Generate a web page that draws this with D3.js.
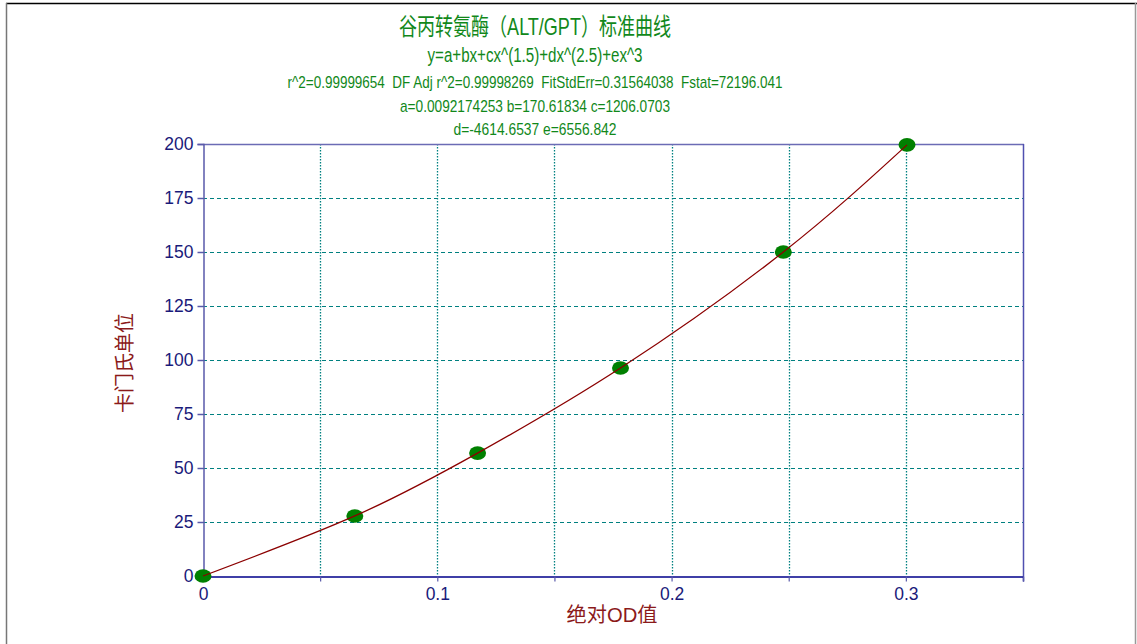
<!DOCTYPE html>
<html>
<head>
<meta charset="utf-8">
<script src="https://cdn.jsdelivr.net/npm/d3@7"></script>
<style>
  body { margin: 0; background: #fff; }
  svg { display: block; font-family: Arial, "Liberation Sans", "Noto Sans CJK SC", sans-serif; }
  text { white-space: pre; }
</style>
</head>
<body>
<div id="chart"></div>
<script>
var width = 1137, height = 644;
var margin = {top: 144, right: 114, bottom: 68, left: 203};

// measured points (OD, units)
var odValues = [0, 0.0648, 0.1172, 0.1782, 0.2477, 0.3005];
var unitValues = [0, 27.8, 56.9, 96.3, 150, 199.6];

var xTicks = [0, 0.1, 0.2, 0.3];
var xGrid = [0.05, 0.1, 0.15, 0.2, 0.25, 0.3];
var yTicks = [0, 25, 50, 75, 100, 125, 150, 175, 200];

var titleLines = [
    "谷丙转氨酶（ALT/GPT）标准曲线",
    "y=a+bx+cx^(1.5)+dx^(2.5)+ex^3",
    "r^2=0.99999654  DF Adj r^2=0.99998269  FitStdErr=0.31564038  Fstat=72196.041",
    "a=0.0092174253 b=170.61834 c=1206.0703",
    "d=-4614.6537 e=6556.842"
];
var xLabel = "绝对OD值";
var yLabel = "卡门氏单位";

var data = odValues.map(function(d, i) { return {x: d, y: unitValues[i]}; });

var svg = d3.select("#chart").append("svg")
    .attr("width", width)
    .attr("height", height);

// outer frame
svg.append("line").attr("x1", 6).attr("x2", 1137).attr("y1", 3.5).attr("y2", 3.5)
    .attr("stroke", "#000").attr("stroke-width", 1.5);
svg.append("line").attr("x1", 6.5).attr("x2", 6.5).attr("y1", 3).attr("y2", 644)
    .attr("stroke", "#777").attr("stroke-width", 1.5);
svg.append("line").attr("x1", 1135.5).attr("x2", 1135.5).attr("y1", 3).attr("y2", 644)
    .attr("stroke", "#999").attr("stroke-width", 1.5);

var x = d3.scaleLinear().domain([0, 0.35]).range([margin.left, width - margin.right]);
var y = d3.scaleLinear().domain([0, 200]).range([height - margin.bottom, margin.top]);

// grid
svg.append("g").selectAll("line")
    .data(xGrid).enter().append("line")
    .attr("x1", function(d) { return Math.round(x(d)) + 0.5; })
    .attr("x2", function(d) { return Math.round(x(d)) + 0.5; })
    .attr("y1", y(200)).attr("y2", y(0))
    .attr("stroke", "#008080").attr("stroke-width", 1.3)
    .attr("stroke-dasharray", "1.5,1.5");

svg.append("g").selectAll("line")
    .data(yTicks.slice(1, -1)).enter().append("line")
    .attr("x1", x(0)).attr("x2", x(0.35))
    .attr("y1", function(d) { return Math.round(y(d)) + 0.5; })
    .attr("y2", function(d) { return Math.round(y(d)) + 0.5; })
    .attr("stroke", "#008080").attr("stroke-width", 1)
    .attr("stroke-dasharray", "4,3");

// frame of plot
svg.append("line").attr("x1", x(0)).attr("x2", x(0.35) + 1).attr("y1", y(200) + 0.5).attr("y2", y(200) + 0.5)
    .attr("stroke", "#6b6bb5").attr("stroke-width", 1.5);
svg.append("line").attr("x1", x(0.35) + 0.5).attr("x2", x(0.35) + 0.5).attr("y1", y(200)).attr("y2", y(0))
    .attr("stroke", "#5050b0").attr("stroke-width", 1.5);

// axes
var yAxis = svg.append("g")
    .attr("transform", "translate(" + (x(0) + 0.5) + ",0)")
    .call(d3.axisLeft(y).tickValues(yTicks).tickSize(6).tickPadding(4).tickFormat(d3.format("d")));
var xAxis = svg.append("g")
    .attr("transform", "translate(0," + (y(0) + 0.5) + ")")
    .call(d3.axisBottom(x).tickValues(d3.range(0, 0.351, 0.05)).tickSize(5).tickPadding(4)
        .tickFormat(function(d) { return xTicks.some(function(t) { return Math.abs(t - d) < 1e-9; }) ? d3.format("")(+d.toFixed(2)) : ""; }));

yAxis.select(".domain").attr("stroke", "#5a5aaa").attr("stroke-width", 1.5);
xAxis.select(".domain").attr("stroke", "#00008b").attr("stroke-width", 1.5);
yAxis.selectAll(".tick line").attr("stroke", "#5a5aaa").attr("stroke-width", 1.5);
xAxis.selectAll(".tick line").attr("stroke", "#5a5aaa").attr("stroke-width", 1.2);
svg.selectAll(".tick text")
    .attr("fill", "#1a1a7a")
    .style("font-size", "17.5px")
    .style("font-family", "Arial, 'Liberation Sans', sans-serif");
yAxis.selectAll(".tick text").attr("dy", "0.3em");
xAxis.selectAll(".tick text").attr("dy", "0.8em");

// axis labels
svg.append("text")
    .attr("x", 612).attr("y", 622)
    .attr("text-anchor", "middle")
    .attr("fill", "#8b1a1a")
    .style("font-size", "20px")
    .attr("textLength", 91).attr("lengthAdjust", "spacingAndGlyphs")
    .text(xLabel);
svg.append("text")
    .attr("transform", "translate(132,363) rotate(-90)")
    .attr("text-anchor", "middle")
    .attr("fill", "#8b1a1a")
    .style("font-size", "20px")
    .attr("textLength", 100).attr("lengthAdjust", "spacingAndGlyphs")
    .text(yLabel);

// curve
var line = d3.line()
    .x(function(d) { return x(d.x); })
    .y(function(d) { return y(d.y); })
    .curve(d3.curveNatural);

// points
svg.append("g").selectAll("ellipse")
    .data(data).enter().append("ellipse")
    .attr("cx", function(d) { return x(d.x); })
    .attr("cy", function(d) { return y(d.y); })
    .attr("rx", 8.5).attr("ry", 6.8)
    .attr("fill", "#008000");

svg.append("path")
    .datum(data)
    .attr("d", line)
    .attr("fill", "none")
    .attr("stroke", "#8b0000")
    .attr("stroke-width", 1.3);

// titles
var titleSizes = [24, 20.5, 17, 17, 17];
var titleWidths = [272, 215, 495, 270, 163];
var titleY = [35, 62, 88, 112, 135];
svg.append("g").selectAll("text")
    .data(titleLines).enter().append("text")
    .attr("x", 535)
    .attr("y", function(d, i) { return titleY[i]; })
    .attr("text-anchor", "middle")
    .attr("fill", "#11881a")
    .attr("textLength", function(d, i) { return titleWidths[i]; })
    .attr("lengthAdjust", "spacingAndGlyphs")
    .style("font-size", function(d, i) { return titleSizes[i] + "px"; })
    .text(function(d) { return d; });
</script>
</body>
</html>
